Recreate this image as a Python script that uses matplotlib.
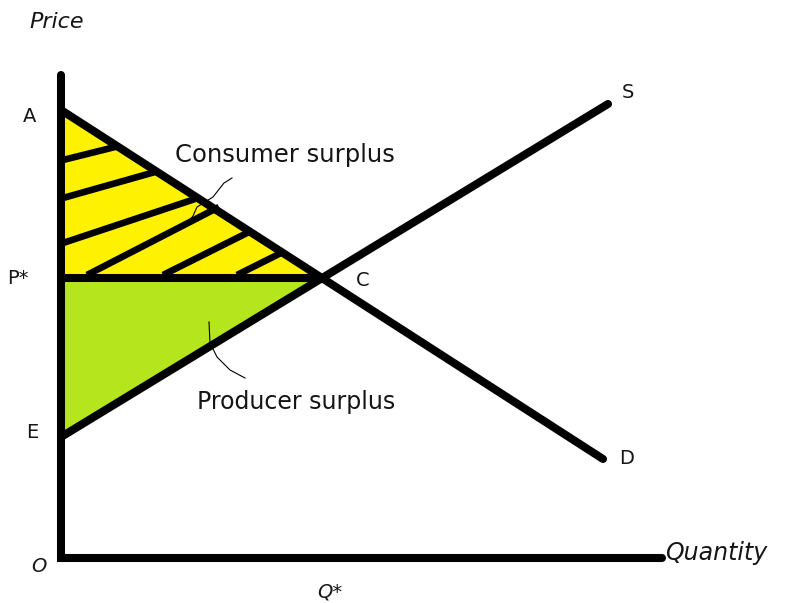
import matplotlib
matplotlib.use("Agg")
import matplotlib.pyplot as plt
import numpy as np

# ---- data (diagram units) ----
axis_top = 48.3
axis_right = 60.1
demand = [(0.0, 44.8), (54.2, 9.9)]   # A -> D
supply = [(0.0, 12.1), (54.7, 45.4)]  # E -> S

hatch_segments = [
    [(0.2, 39.8), (5.8, 41.2)],
    [(0.2, 36.0), (9.4, 38.6)],
    [(0.2, 31.5), (13.4, 35.9)],
    [(2.6, 28.3), (15.8, 35.1)],
    [(10.2, 28.3), (18.8, 32.6)],
    [(17.6, 28.3), (22.0, 30.5)],
]
consumer_leader_x = [17.1, 16.3, 15.2, 14.4, 13.6, 13.2, 12.7]
consumer_leader_y = [38.0, 37.5, 36.1, 35.6, 35.1, 34.2, 33.6]
producer_leader_x = [14.8, 14.9, 15.6, 16.9, 18.4]
producer_leader_y = [23.6, 21.5, 20.1, 18.8, 18.0]

labels = {
    "Price": (-0.4, 53.6),
    "A": (-3.1, 44.1),
    "P*": (-4.3, 28.0),
    "E": (-2.9, 12.5),
    "O": (-2.2, -0.9),
    "C": (30.2, 27.8),
    "S": (56.7, 46.6),
    "D": (56.6, 10.0),
    "Q*": (26.9, -3.4),
}
italic_labels = ["Price", "O", "Q*"]

YELLOW = "#FFF200"
GREEN = "#B5E61D"

# intersection of demand and supply
(dx0, dy0), (dx1, dy1) = demand
(sx0, sy0), (sx1, sy1) = supply
md = (dy1 - dy0) / (dx1 - dx0)
ms = (sy1 - sy0) / (sx1 - sx0)
qstar = (sy0 - dy0) / (md - ms)
pstar = dy0 + md * qstar

fig = plt.figure(figsize=(8.03, 6.03), dpi=100)
ax = fig.add_axes([0, 0, 1, 1])
ax.set_xlim(-6.1, 74.2)
ax.set_ylim(-4.5, 55.8)
ax.axis("off")

# surplus areas
ax.fill([0, 0, qstar], [dy0, pstar, pstar], color=YELLOW, zorder=1)
ax.fill([0, 0, qstar], [pstar, sy0, pstar], color=GREEN, zorder=1)

lw = 5.8
# hatching
for seg in hatch_segments:
    xs, ys = zip(*seg)
    ax.plot(xs, ys, color="black", lw=4.8, solid_capstyle="butt", zorder=2)

# axes
ax.plot([0, 0, axis_right], [axis_top, 0, 0], color="black", lw=lw,
        solid_capstyle="round", solid_joinstyle="miter", zorder=3)
# demand, supply
ax.plot([dx0, dx1], [dy0, dy1], color="black", lw=lw, solid_capstyle="round", zorder=3)
ax.plot([sx0, sx1], [sy0, sy1], color="black", lw=lw, solid_capstyle="round", zorder=3)
# P* line
ax.plot([0, qstar], [pstar, pstar], color="black", lw=lw, solid_capstyle="butt", zorder=3)

# leaders
ax.plot(consumer_leader_x, consumer_leader_y, color="black", lw=0.8, zorder=4)
ax.plot(producer_leader_x, producer_leader_y, color="black", lw=0.8, zorder=4)

fam = "DejaVu Sans"
tc = "#151515"
for t, (x, y) in labels.items():
    fs = 16 if t == "Price" else 14
    st = "italic" if t in italic_labels else "normal"
    ax.text(x, y, t, ha="center", va="center", fontsize=fs, family=fam,
            style=st, color=tc)
ax.text(60.4, 0.5, "Quantity", ha="left", va="center", fontsize=17, family=fam,
        style="italic", color=tc)
ax.text(11.4, 40.3, "Consumer surplus", ha="left", va="center", fontsize=17.5,
        family=fam, color=tc)
ax.text(13.6, 15.6, "Producer surplus", ha="left", va="center", fontsize=17,
        family=fam, color=tc)

fig.savefig("out.png", dpi=100)
